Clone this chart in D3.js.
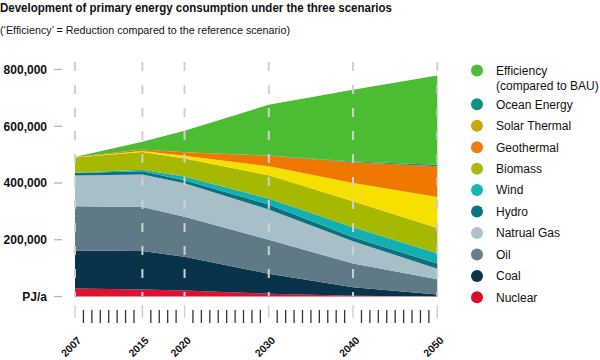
<!DOCTYPE html>
<html>
<head>
<meta charset="utf-8">
<script src="https://cdn.jsdelivr.net/npm/d3@7"></script>
<style>
  body { margin: 0; background: #fff; }
  text { font-family: "Liberation Sans", Arial, Helvetica, sans-serif; fill: #111; }
</style>
</head>
<body>
<div id="chart"></div>
<script>
// years with data
var years = [2007, 2015, 2020, 2030, 2040, 2050];
var labelYears = [2007, 2015, 2020, 2030, 2040, 2050];

// PJ/a per source
var nuclear    = [28000, 25000, 21000, 10000, 3000, 0];
var coal       = [134000, 135000, 119000, 70000, 30000, 7000];
var oil        = [156000, 155000, 141000, 120000, 83000, 54000];
var naturalGas = [108000, 115000, 118000, 107000, 79000, 37000];
var hydro      = [9000, 11000, 11000, 17000, 14000, 18000];
var wind       = [1000, 6000, 13000, 21000, 35000, 36000];
var biomass    = [54000, 62000, 63000, 82000, 92000, 89000];
var solarTherm = [1000, 4000, 10000, 32000, 64000, 110000];
var geothermal = [1000, 5000, 12000, 37000, 73000, 108000];
var ocean      = [0, 0, 0, 1000, 3000, 5000];
var efficiency = [0, 27000, 76000, 179000, 253000, 315000];

var yTicks = [0, 200000, 400000, 600000, 800000];

// stacking order bottom -> top
var keys = ['Nuclear', 'Coal', 'Oil', 'Natrual Gas', 'Hydro', 'Wind', 'Biomass',
            'Solar Thermal', 'Geothermal', 'Ocean Energy', 'Efficiency'];
var values = [nuclear, coal, oil, naturalGas, hydro, wind, biomass,
              solarTherm, geothermal, ocean, efficiency];
var areaColors = ['#e2102e', '#07344a', '#5f7a84', '#a8bfc8', '#0b717c', '#12b0b3',
                  '#a6b800', '#f6e000', '#f07800', '#11907e', '#4cbc32'];

// legend order as printed
var legendKeys = ['Efficiency', 'Ocean Energy', 'Solar Thermal', 'Geothermal', 'Biomass',
                  'Wind', 'Hydro', 'Natrual Gas', 'Oil', 'Coal', 'Nuclear'];
var legendColors = ['#4cbb38', '#11907e', '#c8a90c', '#f07b12', '#a9b910',
                    '#18b5b5', '#0d7580', '#adc2cb', '#687f89', '#0c3347', '#de0a2e'];

var table = years.map(function(yr, i) {
    var row = { year: yr };
    keys.forEach(function(k, j) { row[k] = values[j][i]; });
    return row;
});

var svg = d3.select('#chart')
    .append('svg')
    .attr('width', 600)
    .attr('height', 360);

svg.append('rect').attr('width', 600).attr('height', 360).attr('fill', '#fff');

var x = d3.scaleLinear().domain([2007, 2050]).range([75, 437.3]);
var y = d3.scaleLinear().domain([0, 800000]).range([296.5, 69.5]);

// title
svg.append('text')
    .attr('x', 0).attr('y', 12)
    .attr('textLength', 392).attr('lengthAdjust', 'spacingAndGlyphs')
    .style('font-size', '13.5px').style('font-weight', 'bold')
    .text('Development of primary energy consumption under the three scenarios');
svg.append('text')
    .attr('x', 0).attr('y', 34)
    .attr('textLength', 290).attr('lengthAdjust', 'spacingAndGlyphs')
    .style('font-size', '10px')
    .text('(\u2018Efficiency\u2019 = Reduction compared to the reference scenario)');

// areas
var series = d3.stack().keys(keys)(table);
var area = d3.area()
    .x(d => x(d.data.year))
    .y0(d => y(d[0]))
    .y1(d => y(d[1]));

svg.append('g')
    .selectAll('path')
    .data(series)
    .enter()
    .append('path')
    .attr('d', area)
    .attr('fill', (d, i) => areaColors[i]);

// dashed year lines
svg.append('g')
    .selectAll('line')
    .data(labelYears)
    .enter()
    .append('line')
    .attr('x1', d => x(d)).attr('x2', d => x(d))
    .attr('y1', 62).attr('y2', 296)
    .style('stroke', '#d0d0d0')
    .style('stroke-width', 2)
    .style('stroke-dasharray', '9,14');

// y axis
var yAxis = svg.append('g');
yAxis.selectAll('line')
    .data(yTicks)
    .enter()
    .append('line')
    .attr('x1', 54).attr('x2', 62)
    .attr('y1', d => y(d)).attr('y2', d => y(d))
    .style('stroke', '#a9b4bd')
    .style('stroke-width', 1.2);
yAxis.selectAll('text')
    .data(yTicks)
    .enter()
    .append('text')
    .attr('x', 47)
    .attr('y', d => y(d))
    .attr('dy', '0.36em')
    .style('text-anchor', 'end')
    .style('font-size', '12px')
    .style('font-weight', 'bold')
    .text(d => d === 0 ? 'PJ/a' : d3.format(',')(d));

// x axis ticks, one per year
var allYears = d3.range(2007, 2051);
svg.append('g')
    .selectAll('line')
    .data(allYears)
    .enter()
    .append('line')
    .attr('x1', d => x(d)).attr('x2', d => x(d))
    .attr('y1', d => labelYears.indexOf(d) >= 0 ? 305 : 310)
    .attr('y2', d => labelYears.indexOf(d) >= 0 ? 318 : 323)
    .style('stroke', d => labelYears.indexOf(d) >= 0 ? '#cccccc' : '#333')
    .style('stroke-width', 1.3);

svg.append('g')
    .selectAll('text')
    .data(labelYears)
    .enter()
    .append('text')
    .attr('transform', d => 'translate(' + (x(d) + 7) + ',341) rotate(-45)')
    .style('text-anchor', 'end')
    .style('font-size', '10.5px')
    .style('font-weight', 'bold')
    .text(d => d);

// legend
var legendY = function(i) { return i === 0 ? 70.5 : 104.3 + (i - 1) * 21.45; };

var legend = svg.append('g');
legend.selectAll('circle')
    .data(legendKeys)
    .enter()
    .append('circle')
    .attr('cx', 477)
    .attr('cy', (d, i) => legendY(i))
    .attr('r', 6)
    .style('fill', (d, i) => legendColors[i]);
legend.selectAll('text')
    .data(legendKeys)
    .enter()
    .append('text')
    .attr('x', 496)
    .attr('y', (d, i) => legendY(i))
    .attr('dy', '0.36em')
    .style('font-size', '12px')
    .text(d => d);
legend.append('text')
    .attr('x', 496)
    .attr('y', legendY(0) + 15)
    .attr('dy', '0.36em')
    .style('font-size', '12px')
    .text('(compared to BAU)');
</script>
</body>
</html>
